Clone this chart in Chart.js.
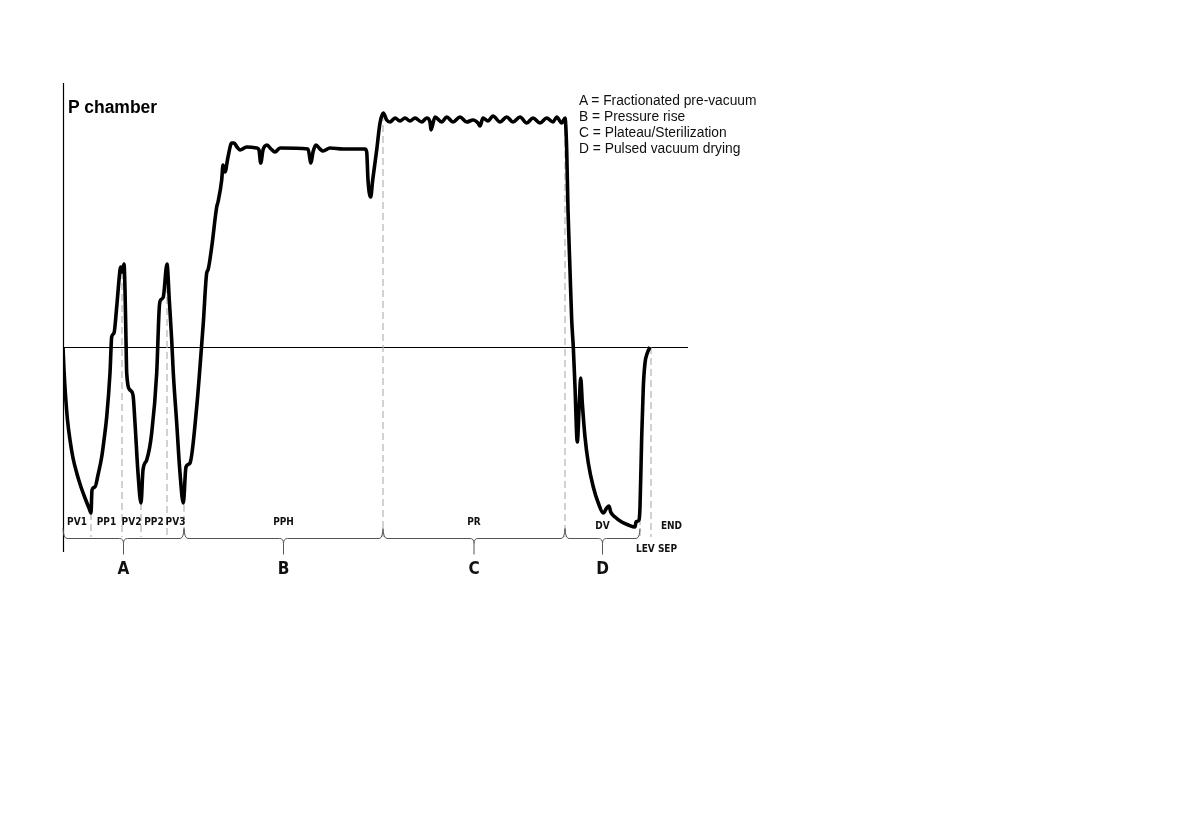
<!DOCTYPE html>
<html>
<head>
<meta charset="utf-8">
<title>P chamber</title>
<script src="https://cdn.jsdelivr.net/npm/chart.js@4.4.1/dist/chart.umd.min.js"></script>
<style>
  html, body { margin: 0; padding: 0; background: #fff; }
  #wrap { position: relative; width: 1191px; height: 839px; overflow: hidden; }
  #chart { position: absolute; left: 0; top: 0; }
  .title { position: absolute; left: 68px; top: 97px; font: bold 17.5px/20px 'Liberation Sans', Arial, sans-serif; color: #000; }
  .legend { position: absolute; left: 579px; top: 92.5px; font: 13.8px/16px 'Liberation Sans', Arial, sans-serif; color: #111; white-space: nowrap; }
</style>
</head>
<body>
<div id="wrap">
  <canvas id="chart" width="1191" height="839"></canvas>
  <div class="title">P chamber</div>
  <div class="legend" id="legend"></div>
</div>
<script>
// --- curve: time (arbitrary units) vs chamber pressure (0 = atmosphere) ---
const timeVals = [
  0, 1, 2.5, 4.5, 7, 10, 14, 18, 22, 26, 28, 29, 32, 35, 38.7, 41, 43.7, 47, 48.7, 51,
  53.7, 57, 57.7, 59, 61, 62, 63, 63.7, 67, 70, 72, 75, 78, 80, 83.7, 88.7, 93.7, 96.3, 97.7, 100.3,
  104, 106.3, 108.7, 110.3, 113.7, 117, 120.3, 123, 127, 133.7, 137, 140.3, 143.7, 145, 148.7, 153.7, 155, 158.7, 160, 162,
  165, 168.7, 171, 174, 177, 183.7, 193.7, 196, 197.7, 200, 204, 208, 212, 217, 245, 248, 250, 253, 257, 260,
  267, 280, 302, 303.7, 305, 307.7, 309.7, 313.7, 317, 320.3, 323.7, 327, 332, 337, 342, 347, 352, 358.7, 363.7, 367,
  368, 372, 378.7, 383.7, 390, 397, 403.7, 410, 415, 417, 420, 425, 430, 437, 443.7, 450, 457, 463.7, 470, 477,
  483.7, 490, 493.7, 498.7, 502, 503.7, 505, 507, 508.7, 510.3, 512, 514.3, 516.3, 517.7, 519.3, 522, 525.3, 530.3, 535.3, 540.3,
  543.7, 546, 547.7, 552, 558.7, 565.3, 572, 573, 576, 577, 578.7, 580.3, 582, 584.3, 587
];
const pressureVals = [
  0, -23, -48, -73, -93, -111, -127, -140, -151, -161, -166, -143, -140, -128, -110, -93, -70, -26, 10, 14,
  40, 77, 80, 75, 83, 57, 7, -26, -43, -48, -76, -126, -156, -123, -113, -86, -26, 40, 47, 50,
  83, 47, 7, -26, -76, -126, -156, -120, -116, -60, -20, 24, 74, 77, 100, 140, 145, 167, 182, 175,
  190, 204, 204, 200, 197, 200, 199, 197, 184, 197, 202, 198, 195, 199, 198, 184, 195, 202, 198, 196,
  199, 198, 198, 195, 167, 150, 167, 197, 224, 234, 227, 225, 229, 226, 229, 226, 229, 225, 229, 225,
  217, 230, 225, 230, 225, 230, 225, 227, 224, 221, 229, 226, 231, 225, 230, 225, 230, 224, 229, 224,
  229, 225, 230, 224, 229, 197, 137, 77, 27, 0, -40, -95, -56, -31, -56, -90, -116, -140, -156, -166,
  -161, -159, -165, -170, -175, -178, -180, -175, -173, -160, -90, -40, -16, -6, 0
];

// --- phases (time spans) ---
const phaseNames = ['PV1', 'PP1', 'PV2', 'PP2', 'PV3', 'PPH', 'PR', 'DV', 'LEV SEP', 'END'];
const phaseStart = [0, 28, 59, 78, 104, 121, 320, 502, 577, 588];
const phaseEnd = [28, 59, 78, 104, 121, 320, 502, 577, 588, 625];

// --- cycle groups ---
const groupNames = ['A', 'B', 'C', 'D'];
const groupDescs = ['Fractionated pre-vacuum', 'Pressure rise', 'Plateau/Sterilization', 'Pulsed vacuum drying'];
const groupStart = [0, 121, 320, 502];
const groupEnd = [121, 320, 502, 577];

// dashed separators between phases
const boundaryTimes = [28, 59, 78, 104, 121, 320, 502, 577, 588];

document.getElementById('legend').innerHTML =
  groupNames.map((g, i) => `<div>${g} = ${groupDescs[i]}</div>`).join('');

function curveAt(t) {
  for (let i = 0; i < timeVals.length - 1; i++) {
    if (t >= timeVals[i] && t <= timeVals[i + 1]) {
      const f = (t - timeVals[i]) / (timeVals[i + 1] - timeVals[i]);
      return pressureVals[i] + f * (pressureVals[i + 1] - pressureVals[i]);
    }
  }
  return pressureVals[pressureVals.length - 1];
}

const BASE_P = -191; // level of the braces / bottom of separators

const datasets = [{
  label: 'P chamber',
  data: timeVals.map((t, i) => ({ x: t, y: pressureVals[i] })),
  borderColor: '#000',
  borderWidth: 3.6,
  pointRadius: 0,
  cubicInterpolationMode: 'monotone',
  fill: false
}];
boundaryTimes.forEach(b => {
  datasets.push({
    data: [{ x: b, y: curveAt(b) }, { x: b, y: BASE_P + 1 }],
    borderColor: '#b4b4b4',
    borderWidth: 1.2,
    borderDash: [7, 4],
    pointRadius: 0
  });
});

// label nudges (pixels) where the original drawing shifts them
const labelNudge = { 'DV': [0, 4], 'END': [2, 4], 'LEV SEP': [11, 27] };

function drawBrace(ctx, x0, x1, xm, y) {
  ctx.beginPath();
  ctx.moveTo(x0, y - 10);
  ctx.quadraticCurveTo(x0 + 0.5, y, x0 + 4, y);
  ctx.lineTo(xm - 4, y);
  ctx.quadraticCurveTo(xm, y, xm, y + 5);
  ctx.lineTo(xm, y + 16);
  ctx.moveTo(xm, y + 5);
  ctx.quadraticCurveTo(xm, y, xm + 4, y);
  ctx.lineTo(x1 - 4, y);
  ctx.quadraticCurveTo(x1 - 0.5, y, x1, y - 10);
  ctx.stroke();
}

const decorPlugin = {
  id: 'decor',
  beforeDatasetsDraw(chart) {
    const { ctx, scales: { x, y } } = chart;
    const x0 = Math.round(x.getPixelForValue(0)) + 0.5;
    const y0 = Math.round(y.getPixelForValue(0)) + 0.5;
    ctx.save();
    ctx.strokeStyle = '#000';
    ctx.lineWidth = 1.2;
    ctx.beginPath();
    ctx.moveTo(x0, y.top);
    ctx.lineTo(x0, y.bottom);
    ctx.moveTo(x0, y0);
    ctx.lineTo(x.right, y0);
    ctx.stroke();
    ctx.restore();
  },
  afterDatasetsDraw(chart) {
    const { ctx, scales: { x, y } } = chart;
    const by = Math.round(y.getPixelForValue(BASE_P)) + 0.5;
    ctx.save();
    ctx.strokeStyle = '#555';
    ctx.lineWidth = 1;
    groupNames.forEach((g, i) => {
      const xa = x.getPixelForValue(groupStart[i]);
      const xb = x.getPixelForValue(groupEnd[i]);
      drawBrace(ctx, xa, xb, (xa + xb) / 2, by);
    });

    ctx.fillStyle = '#111';
    ctx.textAlign = 'center';
    ctx.textBaseline = 'middle';
    ctx.font = "bold 10px 'Liberation Sans Narrow', 'DejaVu Sans Condensed', sans-serif";
    phaseNames.forEach((name, i) => {
      const nudge = labelNudge[name] || [0, 0];
      const px = x.getPixelForValue((phaseStart[i] + phaseEnd[i]) / 2) + nudge[0];
      ctx.fillText(name, px, by - 16 + nudge[1]);
    });

    ctx.font = "bold 17px 'Liberation Sans Narrow', 'DejaVu Sans Condensed', sans-serif";
    groupNames.forEach((g, i) => {
      const px = x.getPixelForValue((groupStart[i] + groupEnd[i]) / 2);
      ctx.fillText(g, px, by + 31);
    });
    ctx.restore();
  }
};

new Chart(document.getElementById('chart').getContext('2d'), {
  type: 'line',
  data: { datasets },
  options: {
    responsive: false,
    animation: false,
    layout: { padding: { left: 63, right: 503, top: 83, bottom: 287 } },
    plugins: { legend: { display: false }, tooltip: { enabled: false } },
    scales: {
      x: { type: 'linear', display: false, min: 0, max: 625 },
      y: { type: 'linear', display: false, min: -205, max: 264 }
    }
  },
  plugins: [decorPlugin]
});
</script>
</body>
</html>
